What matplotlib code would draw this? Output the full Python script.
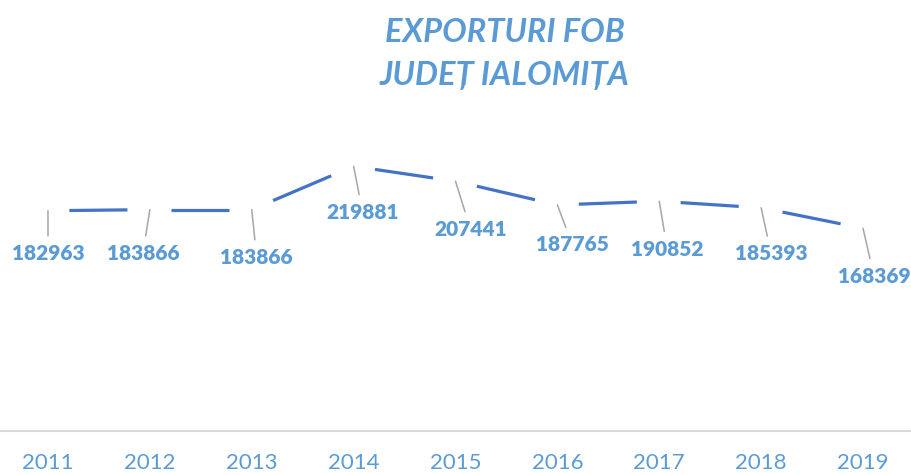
import numpy as np
import matplotlib.pyplot as plt

ani = ['2011', '2012', '2013', '2014', '2015', '2016', '2017', '2018', '2019']
exporturi = [182963, 183866, 183866, 219881, 207441, 187765, 190852, 185393, 168369]

# deplasarea etichetelor fata de punct (pixeli)
label_dx = [0, -7, 5, 9, 15, 15, 8, 10, 11]
label_dy = [43, 44, 48, 46, 48, 40, 48, 46, 48]

blue_line = '#4472C4'
blue_text = '#5B9BD5'
gray = '#A6A6A6'

plt.rcParams['font.family'] = ['Lato', 'DejaVu Sans']

fig = plt.figure(figsize=(9.11, 4.75), dpi=100)
ax = fig.add_axes([0, 0.0926, 1, 0.6337])

x = np.arange(len(ani))
y = np.array(exporturi, dtype=float)

# linie punctata lunga: cate o liniuta pe fiecare segment, cu goluri la puncte
for i in range(len(x) - 1):
    t = np.array([0.21, 0.78])
    xs = x[i] + t * (x[i + 1] - x[i])
    ys = y[i] + t * (y[i + 1] - y[i])
    ax.plot(xs, ys, color=blue_line, lw=2.3, solid_capstyle='butt')

for i, v in enumerate(exporturi):
    ax.annotate(str(v), xy=(x[i], y[i]), xytext=(label_dx[i], -label_dy[i]),
                textcoords='offset pixels', ha='center', va='center',
                fontsize=15, fontweight='heavy', color=blue_text,
                arrowprops=dict(arrowstyle='-', color=gray, lw=1.1,
                                shrinkA=4, shrinkB=0))

ax.set_xlim(-0.471, 8.471)
ax.set_ylim(0, 250000)
ax.set_xticks(x)
ax.set_xticklabels(ani, fontsize=16, color=blue_text)
ax.set_yticks([])
ax.tick_params(axis='x', length=0, pad=16)
for s in ['top', 'left', 'right']:
    ax.spines[s].set_visible(False)
ax.spines['bottom'].set_color('#D9D9D9')
ax.spines['bottom'].set_linewidth(1.5)

fig.text(0.554, 0.932, 'EXPORTURI FOB', ha='center', va='center',
         fontsize=23.5, fontweight='bold', fontstyle='italic', color=blue_text)
fig.text(0.554, 0.840, 'JUDEȚ IALOMIȚA', ha='center', va='center',
         fontsize=23.5, fontweight='bold', fontstyle='italic', color=blue_text)

fig.savefig('out.png', dpi=100)
